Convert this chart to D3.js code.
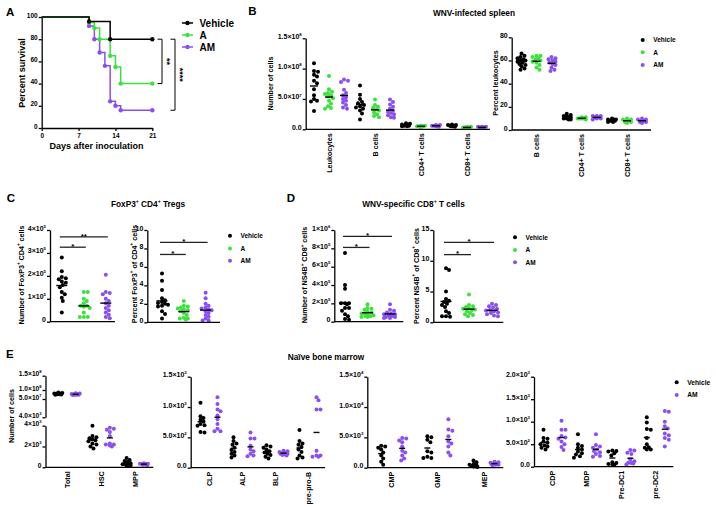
<!DOCTYPE html>
<html lang="en">
<head>
<meta charset="utf-8">
<title>WNV figure</title>
<style>
body { margin: 0; background: #fff; }
svg text { font-family: "Liberation Sans", Arial, sans-serif; font-weight: bold; fill: #000; }
</style>
</head>
<body>
<svg id="fig" width="716" height="510"></svg>
<script src="https://cdn.jsdelivr.net/npm/d3@7"></script>
<script>

// ---------- data ----------
var groups3 = ["Vehicle", "A", "AM"];
var groups2 = ["Vehicle", "AM"];
var colors = { "Vehicle": "#000000", "A": "#3be23b", "AM": "#8a4ff2" };

// A: survival (day, percent)
var survDaysVehicle = [0, 9, 13, 21];
var survVehicle = [100, 96, 80, 80];
var survDaysA = [0, 9, 10, 11, 13, 14, 15, 21];
var survA = [100, 95, 90, 80, 65, 55, 40, 40];
var survDaysAM = [0, 9, 10, 11, 12, 13, 14, 15, 21];
var survAM = [100, 92, 80, 68, 56, 24, 20, 16, 16];
var survTicksX = [0, 7, 14, 21];
var survTicksY = [0, 20, 40, 60, 80, 100];

// B: spleen counts (x10^7 cells)
var spleenCountCats = ["Leukocytes", "B cells", "CD4+ T cells", "CD8+ T cells"];
var spleenCountVehicle = [
  [10.9, 9.6, 9.5, 9.0, 8.7, 8.0, 7.6, 6.6, 5.6, 5.0, 4.7, 4.6, 3.0],
  [7.2, 5.7, 5.0, 4.5, 4.3, 4.0, 3.8, 3.6, 3.4, 3.1, 2.6, 1.6],
  [1.0, 0.9, 0.8, 0.7, 0.6, 0.5, 0.5, 0.6, 0.8],
  [0.8, 0.7, 0.6, 0.5, 0.5, 0.4, 0.6, 0.7, 0.5]
];
var spleenCountA = [
  [8.8, 6.6, 6.2, 6.0, 5.8, 5.6, 5.4, 5.1, 4.7, 4.2, 3.8, 3.5, 3.4],
  [4.9, 4.0, 3.7, 3.5, 3.3, 3.1, 2.8, 2.5, 2.2, 2.0],
  [0.6, 0.5, 0.5, 0.4, 0.5, 0.6, 0.4, 0.5],
  [0.4, 0.3, 0.3, 0.3, 0.4, 0.2, 0.3]
];
var spleenCountAM = [
  [8.2, 8.0, 7.8, 6.5, 6.0, 5.6, 5.3, 5.0, 4.7, 4.4, 4.0, 3.6, 3.4],
  [4.9, 4.5, 4.1, 3.7, 3.4, 3.1, 2.9, 2.7, 2.5, 2.3, 2.0, 1.9],
  [0.7, 0.6, 0.6, 0.5, 0.5, 0.7, 0.6, 0.4],
  [0.4, 0.3, 0.4, 0.3, 0.3, 0.2, 0.4]
];
var spleenCountTicks = [0, 5, 10, 15];
var spleenCountTickLabels = ["0.0", "5.0×10^7", "1.0×10^8", "1.5×10^8"];

// B: percent of leukocytes
var spleenPctCats = ["B cells", "CD4+ T cells", "CD8+ T cells"];
var spleenPctVehicle = [
  [66, 64, 63, 62, 61, 60, 59, 58, 57, 56, 55, 53, 52, 60],
  [14, 13, 12, 11, 11, 10, 10, 9, 9, 12],
  [10, 9, 9, 8, 8, 8, 7, 7, 9]
];
var spleenPctA = [
  [64, 64, 63, 62, 61, 60, 59, 58, 56, 54, 52],
  [11, 10, 10, 10, 9, 11, 10],
  [10, 9, 8, 8, 7, 7, 6, 9]
];
var spleenPctAM = [
  [63, 62, 61, 60, 59, 58, 57, 56, 54, 52, 51],
  [12, 12, 11, 11, 10, 10, 9, 12],
  [10, 9, 8, 8, 7, 7, 6, 9]
];
var spleenPctTicks = [0, 20, 40, 60, 80];

// C: FoxP3+ CD4+ Tregs
var tregCountVehicle = [2.8, 2.2, 1.95, 1.9, 1.85, 1.75, 1.7, 1.6, 1.5, 1.3, 1.2, 1.05, 0.9, 0.4];
var tregCountA = [1.3, 1.3, 1.0, 0.9, 0.8, 0.7, 0.7, 0.65, 0.6, 0.4, 0.2, 0.2, 0.2];
var tregCountAM = [2.05, 1.3, 1.25, 1.2, 1.0, 0.9, 0.7, 0.6, 0.5, 0.4, 0.3, 0.2, 0.15, 0.8];
var tregCountTicks = [0, 1, 2, 3, 4];
var tregCountTickLabels = ["0", "1×10^5", "2×10^5", "3×10^5", "4×10^5"];
var tregCountSig = [[0, 1, "*", 3.25], [0, 2, "**", 3.7]];
var tregPctVehicle = [5.3, 4.5, 3.5, 2.6, 2.4, 2.2, 2.1, 2.0, 1.9, 1.8, 1.7, 1.2, 0.9, 0.4];
var tregPctA = [2.3, 1.8, 1.7, 1.6, 1.5, 1.4, 1.3, 1.2, 1.0, 0.8, 0.5, 0.4, 0.4, 0.3];
var tregPctAM = [3.2, 2.6, 2.0, 1.8, 1.6, 1.5, 1.4, 1.3, 1.2, 1.0, 0.8, 0.6, 0.4, 0.2, 0.2];
var tregPctTicks = [0, 2, 4, 6, 8, 10];
var tregPctSig = [[0, 1, "*", 7.35], [0, 2, "*", 8.65]];

// D: NS4B-specific CD8+ T cells
var ns4bCountVehicle = [7.5, 4.0, 3.6, 2.0, 2.0, 2.0, 1.9, 1.5, 1.5, 1.2, 0.8, 0.6, 0.3, 0.2];
var ns4bCountA = [1.9, 1.5, 1.3, 1.1, 1.0, 0.9, 0.9, 0.8, 0.7, 0.6, 0.6, 0.5, 0.5, 1.4];
var ns4bCountAM = [1.9, 1.3, 1.2, 1.0, 0.9, 0.8, 0.8, 0.7, 0.6, 0.5, 0.5, 0.4, 0.4];
var ns4bCountTicks = [0, 2, 4, 6, 8, 10];
var ns4bCountTickLabels = ["0", "2×10^5", "4×10^5", "6×10^5", "8×10^5", "1×10^6"];
var ns4bCountSig = [[0, 1, "*", 8.1], [0, 2, "*", 9.3]];
var ns4bPctVehicle = [8.8, 8.5, 5.0, 3.8, 3.5, 3.3, 3.0, 2.8, 2.5, 1.8, 1.5, 1.0, 1.0, 0.9];
var ns4bPctA = [4.5, 2.8, 2.6, 2.5, 2.3, 2.2, 2.1, 2.0, 1.8, 1.5, 1.3, 1.2, 1.0];
var ns4bPctAM = [3.0, 2.8, 2.6, 2.4, 2.2, 2.0, 1.9, 1.8, 1.6, 1.5, 1.3, 1.1, 1.0];
var ns4bPctTicks = [0, 5, 10, 15];
var ns4bPctSig = [[0, 1, "*", 11.0], [0, 2, "*", 13.0]];

// E: naive bone marrow (cells)
var bm1Cats = ["Total", "HSC", "MPP"];
var bm1Vehicle = [
  [8.6e7, 8.3e7, 8.1e7, 8.0e7, 7.9e7, 7.8e7, 7.7e7, 7.6e7, 7.5e7, 7.4e7],
  [4000, 3000, 2900, 2800, 2700, 2600, 2500, 2300, 2200, 2000, 1800],
  [900, 700, 600, 500, 400, 300, 300, 200, 200, 150]
];
var bm1AM = [
  [8.2e7, 8.0e7, 7.8e7, 7.7e7, 7.6e7, 7.5e7, 7.5e7, 7.4e7, 7.3e7, 7.2e7],
  [3800, 3700, 3600, 3400, 3000, 2300, 2200, 2200, 2100, 2000],
  [400, 350, 300, 300, 250, 300, 200, 300, 350]
];
var bm1HighTicks = [4000, 5e7, 1e8, 1.5e8];
var bm1HighTickLabels = ["4.0×10^3", "5.0×10^7", "1.0×10^8", "1.5×10^8"];
var bm1LowTicks = [0, 2000, 4000];
var bm1LowTickLabels = ["0", "2×10^3", "4×10^3"];

var bm2Cats = ["CLP", "ALP", "BLP", "pre-pro-B"];
var bm2Vehicle = [
  [1070, 850, 820, 790, 760, 720, 700, 690, 590, 580],
  [500, 440, 400, 380, 330, 290, 260, 230, 200, 170],
  [370, 350, 330, 300, 270, 250, 230, 210, 180, 150],
  [620, 440, 400, 380, 340, 300, 260, 200, 170, 150]
];
var bm2AM = [
  [1160, 1050, 960, 930, 860, 800, 720, 640, 600, 600],
  [580, 480, 480, 360, 300, 270, 230, 200, 190],
  [280, 270, 260, 250, 240, 230, 230, 220, 210, 200],
  [1160, 1110, 960, 960, 280, 200, 180, 180, 200]
];
var bm2Ticks = [0, 500, 1000, 1500];
var bm2TickLabels = ["0.0", "5.0×10^2", "1.0×10^3", "1.5×10^3"];

var bm3Cats = ["CMP", "GMP", "MEP"];
var bm3Vehicle = [
  [3600, 3500, 3300, 3000, 2500, 2000, 1500, 1000, 500],
  [5200, 5000, 4600, 4200, 2700, 2500, 1800, 1600, 1600],
  [1200, 900, 600, 500, 400, 300, 200, 200, 100]
];
var bm3AM = [
  [4900, 4800, 4500, 4200, 3500, 2800, 2500, 2000, 1500, 1200],
  [8000, 6300, 6100, 5200, 4300, 4000, 3500, 2500, 2000],
  [1000, 900, 800, 700, 600, 500, 500, 600, 400]
];
var bm3Ticks = [0, 5000, 10000, 15000];
var bm3TickLabels = ["0.0", "5.0×10^3", "1.0×10^4", "1.5×10^4"];

var bm4Cats = ["CDP", "MDP", "Pre-DC1", "pre-DC2"];
var bm4Vehicle = [
  [820, 640, 620, 560, 530, 500, 470, 450, 420, 380],
  [720, 500, 460, 420, 380, 340, 300, 270, 230, 200],
  [360, 350, 340, 300, 250, 100, 80, 60, 50, 40],
  [1100, 980, 840, 820, 640, 500, 430, 420, 380, 380]
];
var bm4AM = [
  [1020, 820, 820, 680, 650, 620, 560, 500, 440, 370],
  [720, 480, 450, 420, 380, 350, 320, 280, 240, 220],
  [370, 360, 310, 280, 160, 120, 90, 80, 70, 50],
  [1240, 1220, 1000, 900, 850, 740, 700, 640, 600, 450]
];
var bm4Ticks = [0, 500, 1000, 1500, 2000];
var bm4TickLabels = ["0.0", "5.0×10^2", "1.0×10^3", "1.5×10^3", "2.0×10^3"];

// ---------- helpers ----------
var svg = d3.select("#fig");

// writes "a^b" style strings with one-character superscripts
function richText(sel, str, fs) {
  var parts = String(str).split(/\^(.)/);
  var shift = fs * 0.42;
  var raised = false;
  sel.text(null);
  parts.forEach(function(p, i) {
    if (i % 2 === 1) {
      sel.append("tspan").attr("font-size", fs * 0.62).attr("dy", -shift).text(p);
      raised = true;
    } else if (p !== "") {
      sel.append("tspan").attr("dy", raised ? shift : 0).text(p);
      raised = false;
    }
  });
}

function label(g, x, y, str, fs, anchor, rot) {
  var t = g.append("text")
    .attr("transform", "translate(" + x + "," + y + ")" + (rot ? " rotate(" + rot + ")" : ""))
    .attr("text-anchor", anchor || "start")
    .attr("font-size", fs);
  richText(t, str, fs);
  return t;
}

function yAxis(g, x, y, ticks, labels, fs) {
  var ax = g.append("g").attr("transform", "translate(" + x + ",0)")
    .call(d3.axisLeft(y).tickValues(ticks).tickSize(3).tickSizeOuter(0).tickPadding(1)
      .tickFormat(function(d) { return labels ? labels[ticks.indexOf(d)] : d; }));
  ax.attr("font-family", null).attr("font-size", fs);
  ax.selectAll("path, line").attr("stroke", "#000").attr("stroke-width", 1.3);
  ax.selectAll(".tick text").each(function(d) {
    richText(d3.select(this), labels ? labels[ticks.indexOf(d)] : d, fs);
  });
  return ax;
}

// horizontal spread of dots, kept within +-maxOff of the column centre
function swarm(vals, y, cx, r, maxOff) {
  var placed = [];
  var minD = 2 * r - 0.5;
  vals.slice().sort(d3.descending).forEach(function(v) {
    var py = y(v), best = 0, bestD = -1;
    for (var k = 0; k < 60; k++) {
      var off = Math.ceil(k / 2) * (k % 2 ? 1 : -1) * r * 0.5;
      if (Math.abs(off) > maxOff) break;
      var d = d3.min(placed, function(p) { return Math.hypot(p.x - cx - off, p.y - py); });
      if (d === undefined || d >= minD) { best = off; bestD = Infinity; break; }
      if (d > bestD + 0.3) { bestD = d; best = off; }
    }
    placed.push({ x: cx + best, y: py });
  });
  return placed;
}

function legend(g, x, ys, names, fs) {
  names.forEach(function(n, i) {
    g.append("circle").attr("cx", x).attr("cy", ys[i]).attr("r", 2).attr("fill", colors[n]);
    g.append("text").attr("x", x + 10.5).attr("y", ys[i]).attr("dy", "0.35em")
      .attr("font-size", fs).text(n);
  });
}

function dotPanel(o) {
  var g = svg.append("g");
  var yOf = o.yFor || function() { return o.y; };
  var xc = d3.scalePoint().domain(o.cats).range(o.catRange);
  var xg = d3.scalePoint().domain(o.groups).range([-o.off, o.off]);
  o.series.forEach(function(serie, gi) {
    serie.forEach(function(vals, ci) {
      var y = yOf(ci);
      var cx = xc(o.cats[ci]) + xg(o.groups[gi]);
      g.selectAll(null).data(swarm(vals, y, cx, 2, o.spread)).enter().append("circle")
        .attr("cx", function(d) { return d.x; })
        .attr("cy", function(d) { return d.y; })
        .attr("r", 2)
        .attr("fill", colors[o.groups[gi]]);
      var m = y(d3.mean(vals));
      g.append("line").attr("x1", cx - o.meanW / 2).attr("x2", cx + o.meanW / 2)
        .attr("y1", m).attr("y2", m).attr("stroke", "#000").attr("stroke-width", 1.4);
    });
  });
  o.axes.forEach(function(a) { yAxis(g, o.x0, a.y, a.ticks, a.labels, o.tickFs || 7); });
  var y0 = o.y(0);
  g.append("line").attr("x1", o.x0).attr("x2", o.x1).attr("y1", y0).attr("y2", y0)
    .attr("stroke", "#000").attr("stroke-width", 1.3);
  if (o.showCats) {
    o.cats.forEach(function(c) {
      g.append("text")
        .attr("transform", "translate(" + xc(c) + "," + (y0 + 4) + ") rotate(-90)")
        .attr("text-anchor", "end").attr("dy", "0.35em").attr("font-size", 7.2).text(c);
    });
  }
  (o.sig || []).forEach(function(s) {
    var xa = xc(o.cats[0]) + xg(o.groups[s[0]]) - 2;
    var xb = xc(o.cats[0]) + xg(o.groups[s[1]]) + 2;
    var ys = o.y(s[3]);
    g.append("line").attr("x1", xa).attr("x2", xb).attr("y1", ys).attr("y2", ys)
      .attr("stroke", "#222").attr("stroke-width", 1.3);
    g.append("text").attr("x", (xa + xb) / 2).attr("y", ys + 1.8)
      .attr("text-anchor", "middle").attr("font-size", 8).text(s[2]);
  });
  if (o.ylabel) label(g, o.ylabel[0], o.ylabel[1], o.ylabel[2], 7.2, "middle", -90);
  return g;
}

// ---------- panel letters and titles ----------
[["A", 6, 15.7], ["B", 248.3, 15.3], ["C", 6.7, 201.7], ["D", 286.7, 201.7], ["E", 6, 358.3]]
  .forEach(function(p) { svg.append("text").attr("x", p[1]).attr("y", p[2]).attr("font-size", 11.5).text(p[0]); });
label(svg, 474, 16, "WNV-infected spleen", 8.3, "middle");
label(svg, 148, 206.7, "FoxP3^+ CD4^+ Tregs", 8.3, "middle");
label(svg, 413.5, 206.7, "WNV-specific CD8^+ T cells", 8.3, "middle");
label(svg, 326, 360, "Naïve bone marrow", 8.3, "middle");

// ---------- A: survival ----------
(function() {
  var g = svg.append("g");
  var x = d3.scaleLinear().domain([0, 21]).range([41.7, 152.3]);
  var y = d3.scaleLinear().domain([0, 100]).range([128, 17]);
  var line = d3.line().x(function(d) { return x(d[0]); }).y(function(d) { return y(d[1]); })
    .curve(d3.curveStepAfter);
  var curves = [
    ["AM", d3.zip(survDaysAM, survAM)],
    ["A", d3.zip(survDaysA, survA)],
    ["Vehicle", d3.zip(survDaysVehicle, survVehicle)]
  ];
  curves.forEach(function(c) {
    g.append("path").datum(c[1]).attr("d", line).attr("fill", "none")
      .attr("stroke", colors[c[0]]).attr("stroke-width", 1.5);
    g.selectAll(null).data(c[1].slice(1)).enter().append("circle")
      .attr("cx", function(d) { return x(d[0]); }).attr("cy", function(d) { return y(d[1]); })
      .attr("r", 2.2).attr("fill", colors[c[0]]);
  });
  yAxis(g, x(0), y, survTicksY, null, 6.5);
  var xa = g.append("g").attr("transform", "translate(0," + y(0) + ")")
    .call(d3.axisBottom(x).tickValues(survTicksX).tickSize(3).tickSizeOuter(0).tickPadding(2));
  xa.attr("font-family", null).attr("font-size", 6.5);
  xa.selectAll("path, line").attr("stroke", "#000").attr("stroke-width", 1.3);
  label(g, 25, 73, "Percent survival", 9, "middle", -90);
  label(g, 96.5, 149.3, "Days after inoculation", 9, "middle");

  // significance brackets
  [[162, 80, 40, "**", 163.5], [175, 80, 16, "****", 176.5]].forEach(function(b) {
    g.append("path")
      .attr("d", "M" + (b[0] - 4.5) + "," + y(b[1]) + "H" + b[0] + "V" + y(b[2]) + "H" + (b[0] - 4.5))
      .attr("fill", "none").attr("stroke", "#000").attr("stroke-width", 1);
    g.append("text").attr("transform", "translate(" + b[4] + "," + ((y(b[1]) + y(b[2])) / 2) + ") rotate(90)")
      .attr("text-anchor", "middle").attr("font-size", 9).text(b[3]);
  });

  // legend
  groups3.forEach(function(n, i) {
    var ly = 23 + i * 12;
    g.append("line").attr("x1", 182).attr("x2", 193).attr("y1", ly).attr("y2", ly)
      .attr("stroke", colors[n]).attr("stroke-width", 1.5);
    g.append("circle").attr("cx", 187.5).attr("cy", ly).attr("r", 2.2).attr("fill", colors[n]);
    g.append("text").attr("x", 199.5).attr("y", ly).attr("dy", "0.35em").attr("font-size", 10).text(n);
  });
})();

// ---------- B ----------
var yBc = d3.scaleLinear().domain([0, 15]).range([129.3, 38.3]);
dotPanel({
  y: yBc, axes: [{ y: yBc, ticks: spleenCountTicks, labels: spleenCountTickLabels }],
  x0: 305.7, x1: 490, cats: spleenCountCats, catRange: [329, 467], groups: groups3, off: 15,
  series: [spleenCountVehicle, spleenCountA, spleenCountAM], meanW: 8, spread: 4, showCats: true,
  ylabel: [273, 83.5, "Number of cells"]
});
var yBp = d3.scaleLinear().domain([0, 80]).range([130, 37.3]);
dotPanel({
  y: yBp, axes: [{ y: yBp, ticks: spleenPctTicks }],
  x0: 511.7, x1: 651, cats: spleenPctCats, catRange: [536.5, 627], groups: groups3, off: 15,
  series: [spleenPctVehicle, spleenPctA, spleenPctAM], meanW: 8, spread: 4, showCats: true,
  ylabel: [497.5, 83, "Percent leukocytes"]
});
legend(svg, 642.7, [40, 52.3, 65], groups3, 6.5);

// ---------- C ----------
var yCc = d3.scaleLinear().domain([0, 4]).range([321.7, 230]);
dotPanel({
  y: yCc, axes: [{ y: yCc, ticks: tregCountTicks, labels: tregCountTickLabels }],
  x0: 50, x1: 115, cats: [""], catRange: [83.8, 83.8], groups: groups3, off: 22,
  series: [[tregCountVehicle], [tregCountA], [tregCountAM]], meanW: 11, spread: 6, sig: tregCountSig,
  ylabel: [23.5, 275, "Number of FoxP3^+ CD4^+ cells"]
});
var yCp = d3.scaleLinear().domain([0, 10]).range([322.3, 230]);
dotPanel({
  y: yCp, axes: [{ y: yCp, ticks: tregPctTicks }],
  x0: 147.3, x1: 220, cats: [""], catRange: [183.8, 183.8], groups: groups3, off: 21.8,
  series: [[tregPctVehicle], [tregPctA], [tregPctAM]], meanW: 11, spread: 6, sig: tregPctSig,
  ylabel: [136.5, 274, "Percent FoxP3^+ of CD4^+ cells"]
});
legend(svg, 230, [235.7, 248.5, 260.7], groups3, 6.5);

// ---------- D ----------
var yDc = d3.scaleLinear().domain([0, 10]).range([321.7, 230]);
dotPanel({
  y: yDc, axes: [{ y: yDc, ticks: ns4bCountTicks, labels: ns4bCountTickLabels }],
  x0: 334.3, x1: 403.3, cats: [""], catRange: [367.5, 367.5], groups: groups3, off: 22.5,
  series: [[ns4bCountVehicle], [ns4bCountA], [ns4bCountAM]], meanW: 11, spread: 6, sig: ns4bCountSig,
  ylabel: [307, 275, "Number of NS4B^+ CD8^+ cells"]
});
var yDp = d3.scaleLinear().domain([0, 15]).range([322.3, 230]);
dotPanel({
  y: yDp, axes: [{ y: yDp, ticks: ns4bPctTicks }],
  x0: 433.3, x1: 503.3, cats: [""], catRange: [469, 469], groups: groups3, off: 23,
  series: [[ns4bPctVehicle], [ns4bPctA], [ns4bPctAM]], meanW: 11, spread: 6, sig: ns4bPctSig,
  ylabel: [418.5, 276, "Percent NS4B^+ of CD8^+ cells"]
});
legend(svg, 515, [237.3, 250, 262.3], groups3, 6.5);

// ---------- E ----------
var yE1low = d3.scaleLinear().domain([0, 4000]).range([467.3, 425.7]);
var yE1high = d3.scaleLinear().domain(bm1HighTicks).range([417.3, 399, 390, 375.7]);
dotPanel({
  y: yE1low, yFor: function(ci) { return ci === 0 ? yE1high : yE1low; },
  axes: [{ y: yE1high, ticks: bm1HighTicks, labels: bm1HighTickLabels },
         { y: yE1low, ticks: bm1LowTicks, labels: bm1LowTickLabels }],
  x0: 45.5, x1: 153.3, cats: bm1Cats, catRange: [67, 135.3], groups: groups2, off: 8.7,
  series: [bm1Vehicle, bm1AM], meanW: 6, spread: 4.5, showCats: true, tickFs: 6.6,
  ylabel: [13.5, 416, "Number of cells"]
});
var yE2 = d3.scaleLinear().domain([0, 1500]).range([467.7, 376.7]);
dotPanel({
  y: yE2, axes: [{ y: yE2, ticks: bm2Ticks, labels: bm2TickLabels }],
  x0: 190.7, x1: 325, cats: bm2Cats, catRange: [209, 308], groups: groups2, off: 8.5,
  series: [bm2Vehicle, bm2AM], meanW: 6, spread: 4.5, showCats: true
});
var yE3 = d3.scaleLinear().domain([0, 15000]).range([467.7, 376.7]);
dotPanel({
  y: yE3, axes: [{ y: yE3, ticks: bm3Ticks, labels: bm3TickLabels }],
  x0: 367.3, x1: 503.3, cats: bm3Cats, catRange: [391.7, 484], groups: groups2, off: 10.5,
  series: [bm3Vehicle, bm3AM], meanW: 6, spread: 4.5, showCats: true
});
var yE4 = d3.scaleLinear().domain([0, 2000]).range([466.7, 376.7]);
dotPanel({
  y: yE4, axes: [{ y: yE4, ticks: bm4Ticks, labels: bm4TickLabels }],
  x0: 534, x1: 673.3, cats: bm4Cats, catRange: [552.5, 655.8], groups: groups2, off: 9,
  series: [bm4Vehicle, bm4AM], meanW: 6, spread: 4.5, showCats: true
});
legend(svg, 676.7, [382.3, 395], groups2, 6.7);

</script>
</body>
</html>
